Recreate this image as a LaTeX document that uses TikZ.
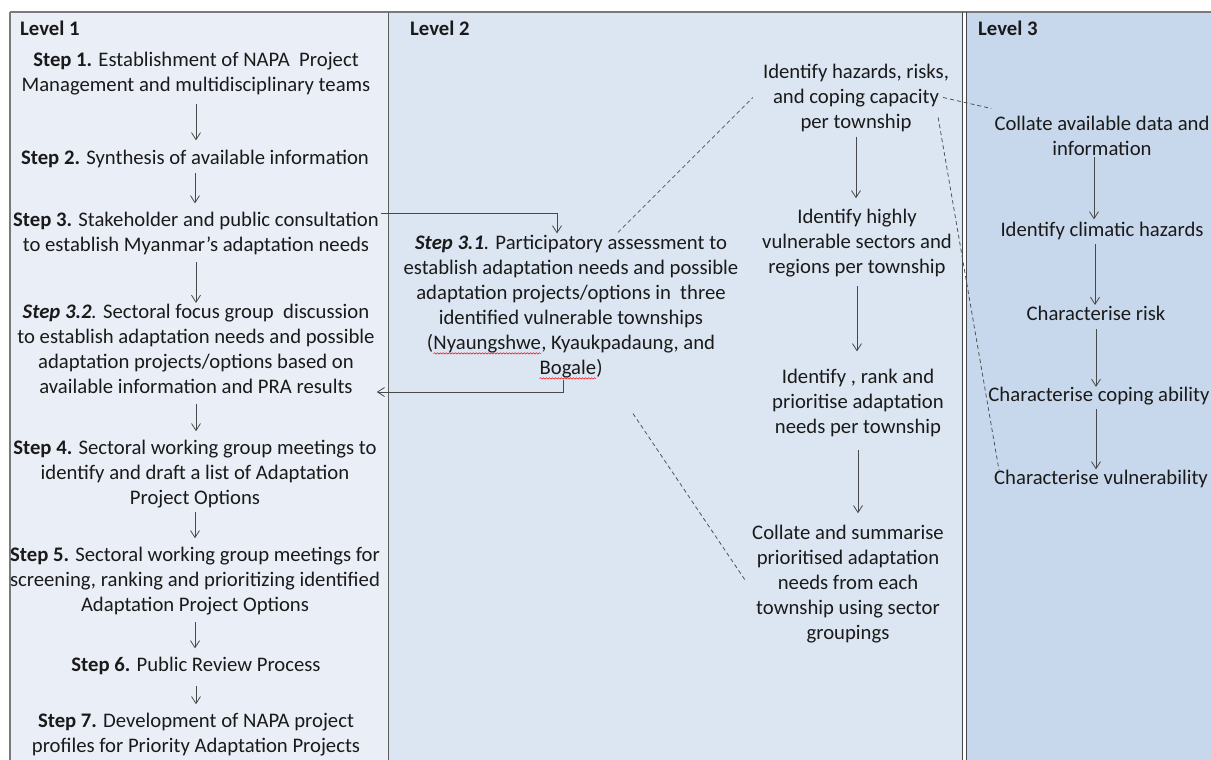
\documentclass[tikz,border=0pt]{standalone}
\usepackage{fontspec}
\setmainfont{Carlito}
\usetikzlibrary{arrows.meta,calc,decorations.pathmorphing}
\definecolor{lone}{HTML}{EAEFF7}
\definecolor{ltwo}{HTML}{DCE6F2}
\definecolor{lthree}{HTML}{C8D8EC}
\definecolor{frame}{HTML}{7A7A7A}
\definecolor{ink}{HTML}{1A1A1A}
\newcommand\squig[1]{\tikz[baseline=(w.base)]{\node[inner sep=0pt,outer sep=0pt](w){#1};\draw[red,line width=0.5pt,decorate,decoration={snake,amplitude=0.7pt,segment length=3pt}]([yshift=-3.5pt]w.base west)--([yshift=-3.5pt]w.base east);}}
\begin{document}
\begin{tikzpicture}[x=1pt,y=-1pt,
  txt/.style={font=\fontsize{20.7}{25}\selectfont, align=center, inner sep=0pt, text=ink},
  lvl/.style={font=\fontsize{20.7}{25}\selectfont\bfseries, inner sep=0pt, anchor=west, text=ink},
  arr/.style={draw=ink!80, line width=0.8pt, -{Straight Barb[length=7pt,width=9pt,line width=0.8pt]}},
  dsh/.style={draw=ink!75, line width=0.8pt, dash pattern=on 4pt off 3pt}]
\useasboundingbox (0,0) rectangle (1211,760);
% backgrounds
\fill[white] (0,0) rectangle (1211,760);
\fill[lone] (10,12) rectangle (388,760);
\fill[ltwo] (388,12) rectangle (962,760);
\fill[lthree] (966,12) rectangle (1211,760);
\fill[white] (962,12) rectangle (966,760);
\draw[frame, line width=1.6pt] (10,12) -- (1211,12);
\draw[frame, line width=1.2pt] (10,12) -- (10,760);
\draw[ink!70, line width=0.9pt] (388,12) -- (388,760);
\draw[ink!80, line width=0.9pt] (962,12) -- (962,760);
\draw[ink!80, line width=0.9pt] (966,12) -- (966,760);
% level labels
\node[lvl] (lv1) at (20,28) {Level 1};
\node[lvl] (lv2) at (410,28) {Level 2};
\node[lvl] (lv3) at (978,28) {Level 3};
% level 1
\node[txt] (s1) at (196,73.5) {\textbf{Step 1.} Establishment of NAPA\ \ Project\\Management and multidisciplinary teams};
\node[txt] (s2) at (195,159) {\textbf{Step 2.} Synthesis of available information};
\node[txt] (s3) at (196,233.5) {\textbf{Step 3.} Stakeholder and public consultation\\to establish Myanmar’s adaptation needs};
\node[txt] (s32) at (196,348.5) {\textbf{\textit{Step 3.2}}\textit{.} Sectoral focus group\ \ discussion\\to establish adaptation needs and possible\\adaptation projects/options based on\\available information and PRA results};
\node[txt] (s4) at (195,474) {\textbf{Step 4.} Sectoral working group meetings to\\identify and draft a list of Adaptation\\Project Options};
\node[txt] (s5) at (195,581) {\textbf{Step 5.} Sectoral working group meetings for\\screening, ranking and prioritizing identified\\Adaptation Project Options};
\node[txt] (s6) at (196,666) {\textbf{Step 6.} Public Review Process};
\node[txt] (s7) at (196,734.5) {\textbf{Step 7.} Development of NAPA project\\profiles for Priority Adaptation Projects};
\draw[arr, shorten <=9pt, shorten >=9.6pt] (s1.south) -- (s1.south |- s2.north);
\draw[arr, shorten <=5pt, shorten >=8.6pt] (s2.south) -- (s2.south |- s3.north);
\draw[arr, shorten <=7pt, shorten >=0.6pt] (s3.south) -- (s3.south |- s32.north);
\draw[arr, shorten <=10.5pt, shorten >=8.6pt] (s32.south) -- (s32.south |- s4.north);
\draw[arr, shorten <=4pt, shorten >=8.6pt] (s4.south) -- (s4.south |- s5.north);
\draw[arr, shorten <=7pt, shorten >=8.6pt] (s5.south) -- (s5.south |- s6.north);
\draw[arr, shorten <=10.5pt, shorten >=8.6pt] (s6.south) -- (s6.south |- s7.north);
% level 2
\node[txt] (s31) at (571,307.5) {\textbf{\textit{Step 3.1}}\textit{.} Participatory assessment to\\establish adaptation needs and possible\\adaptation projects/options in\ \ three\\identified vulnerable townships\\(\squig{Nyaungshwe}, Kyaukpadaung, and\\\squig{Bogale})};
\node[txt] (h1) at (856,97.5) {Identify hazards, risks,\\and coping capacity\\per township};
\node[txt] (h2) at (857,243) {Identify highly\\vulnerable sectors and\\regions per township};
\node[txt] (h3) at (858,403) {Identify , rank and\\prioritise adaptation\\needs per township};
\node[txt] (h4) at (848,584) {Collate and summarise\\prioritised adaptation\\needs from each\\township using sector\\groupings};
\draw[arr, shorten <=5pt, shorten >=10.6pt] (h1.south) -- (h1.south |- h2.north);
\draw[arr, shorten <=9pt, shorten >=17.6pt] (h2.south) -- (h2.south |- h3.north);
\draw[arr, shorten <=13pt, shorten >=11.6pt] (h3.south) -- (h3.south |- h4.north);
\draw[arr, shorten >=2pt] ($(s3.east)+(2,-20.5)$) -| ($(s31.north)+(-14,0)$);
\draw[arr] ($(s31.south)+(-8,0)$) |- ($(s32.east)+(2,43.5)$);
% level 3
\node[txt] (c1) at (1102,135.5) {Collate available data and\\information};
\node[txt] (c2) at (1102,231) {Identify climatic hazards};
\node[txt] (c3) at (1096,313) {Characterise risk};
\node[txt] (c4) at (1099,396) {Characterise coping ability};
\node[txt] (c5) at (1101,479) {Characterise vulnerability};
\draw[arr, shorten <=2pt, shorten >=2.6pt] ($(c1.south)+(-8,0)$) -- ($(c1.south |- c2.north)+(-8,0)$);
\draw[arr, shorten <=4pt, shorten >=0.6pt] ($(c2.south)+(-7,0)$) -- ($(c2.south |- c3.north)+(-7,0)$);
\draw[arr, shorten <=9pt, shorten >=0pt] (c3.south) -- (c3.south |- c4.north);
\draw[arr, shorten <=4pt, shorten >=0.6pt] ($(c4.south)+(-3,0)$) -- ($(c4.south |- c5.north)+(-3,0)$);
% dashed links
\draw[dsh] ($(s31.north)+(47,-3)$) -- ($(h1.west)+(-10,0)$);
\draw[dsh] ($(s31.south)+(62,34)$) -- ($(h4.west)+(-7,-4)$);
\draw[dsh] ($(h1.east)+(-6,0)$) -- ($(c1.west)+(-3,-27)$);
\draw[dsh] ($(h1.east)+(-11,20)$) -- ($(c5.west)+(5,-9)$);
\end{tikzpicture}
\end{document}
